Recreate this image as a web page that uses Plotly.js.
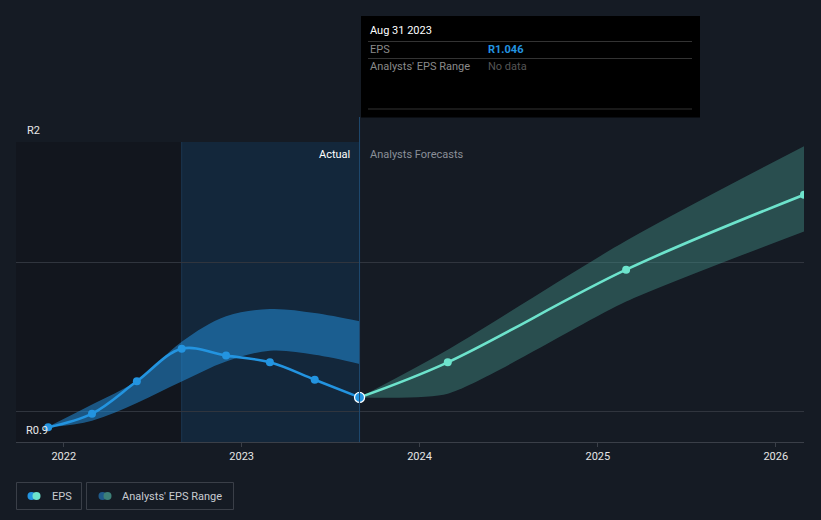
<!DOCTYPE html>
<html>
<head>
<meta charset="utf-8">
<script src="https://cdn.plot.ly/plotly-3.0.1.min.js"></script>
<style>
  html, body { margin: 0; padding: 0; background: #151b24; }
  #chart { width: 821px; height: 520px; }
</style>
</head>
<body>
<div id="chart"></div>
<script>
// ---- data ----
const actualDates = ['2021-11-30','2022-02-28','2022-05-31','2022-08-31','2022-11-30','2023-02-28','2023-05-31','2023-08-31'];
const epsActual   = [0.934, 0.985, 1.106, 1.228, 1.202, 1.177, 1.112, 1.046];
const pastRangeLow  = [0.934, 0.959, 1.025, 1.105, 1.180, 1.220, 1.205, 1.171];
const pastRangeHigh = [0.936, 1.019, 1.108, 1.254, 1.349, 1.376, 1.361, 1.330];

const forecastDates = ['2023-08-31','2024-02-28','2025-02-28','2026-02-28'];
const epsForecast   = [1.046, 1.177, 1.523, 1.803];
const fcRangeLow    = [1.046, 1.060, 1.404, 1.666];
const fcRangeHigh   = [1.046, 1.224, 1.631, 1.984];

const xTickVals = ['2022-01-01','2023-01-01','2024-01-01','2025-01-01','2026-01-01'];
const xTickText = ['2022','2023','2024','2025','2026'];
const yGridVals = [0.9914, 1.5517, 2.0];
const yLabelTop = 'R2';
const yLabelBottom = 'R0.9';
const tooltipDate = 'Aug 31 2023';
const tooltipEps = 'R1.046';
const pastStart = '2022-08-31';
const actualEnd = '2023-08-31';

// ---- layout helpers (pixel -> paper) ----
const L = 16, R = 804, T = 142, B = 442;
const px = x => (x - L) / (R - L);
const py = y => (B - y) / (B - T);

const blue = '#2394e0';
const teal = '#6de3cc';
const font = 'Roboto, "Open Sans", sans-serif';

const traces = [
  { x: actualDates, y: pastRangeLow, mode: 'lines', line: {width: 0, shape: 'spline', smoothing: 1}, hoverinfo: 'skip' },
  { x: actualDates, y: pastRangeHigh, mode: 'lines', line: {width: 0, shape: 'spline', smoothing: 1}, fill: 'tonexty', fillcolor: 'rgba(35,140,215,0.55)', hoverinfo: 'skip' },
  { x: forecastDates, y: fcRangeLow, mode: 'lines', line: {width: 0, shape: 'spline', smoothing: 0.6}, hoverinfo: 'skip' },
  { x: forecastDates, y: fcRangeHigh, mode: 'lines', line: {width: 0, shape: 'spline', smoothing: 0.8}, fill: 'tonexty', fillcolor: 'rgba(70,150,140,0.42)', hoverinfo: 'skip' },
  { x: forecastDates, y: epsForecast, mode: 'lines+markers', line: {color: teal, width: 2.6, shape: 'spline', smoothing: 1}, marker: {color: teal, size: 8} },
  { x: actualDates, y: epsActual, mode: 'lines+markers', line: {color: blue, width: 2.6, shape: 'spline', smoothing: 1}, marker: {color: blue, size: 8} },
  { x: [actualDates[actualDates.length-1]], y: [epsActual[epsActual.length-1]], mode: 'markers', marker: {color: blue, size: 10, line: {color: '#ffffff', width: 1.3}} }
];

const shapes = [
  { type: 'rect', layer: 'below', xref: 'paper', yref: 'paper', x0: 0, x1: px(182), y0: 0, y1: 1, fillcolor: '#12161e', line: {width: 0} },
  { type: 'rect', layer: 'below', xref: 'x', yref: 'paper', x0: pastStart, x1: actualEnd, y0: 0, y1: 1, fillcolor: '#13273b', line: {width: 0} },
  { type: 'line', layer: 'below', xref: 'x', yref: 'paper', x0: pastStart, x1: pastStart, y0: 0, y1: 1, line: {color: '#1b3650', width: 1} },
  { type: 'line', layer: 'above', xref: 'x', yref: 'paper', x0: actualEnd, x1: actualEnd, y0: 0, y1: py(117), line: {color: '#1f4a70', width: 1} },
  { type: 'rect', xref: 'paper', yref: 'paper', x0: px(361), x1: px(700), y0: py(117.5), y1: py(16), fillcolor: '#000000', line: {width: 0} },
  { type: 'line', xref: 'paper', yref: 'paper', x0: px(368), x1: px(692), y0: py(41.5), y1: py(41.5), line: {color: '#333333', width: 1} },
  { type: 'line', xref: 'paper', yref: 'paper', x0: px(368), x1: px(692), y0: py(58.5), y1: py(58.5), line: {color: '#333333', width: 1} },
  { type: 'line', xref: 'paper', yref: 'paper', x0: px(368), x1: px(692), y0: py(109), y1: py(109), line: {color: '#333333', width: 1} },
  { type: 'rect', xref: 'paper', yref: 'paper', x0: px(16.5), x1: px(81.5), y0: py(509.5), y1: py(482.5), line: {color: '#3a3f48', width: 1}, fillcolor: 'rgba(0,0,0,0)' },
  { type: 'rect', xref: 'paper', yref: 'paper', x0: px(86.5), x1: px(233.5), y0: py(509.5), y1: py(482.5), line: {color: '#3a3f48', width: 1}, fillcolor: 'rgba(0,0,0,0)' },
  { type: 'circle', xref: 'paper', yref: 'paper', x0: px(27.5), x1: px(35.5), y0: py(500), y1: py(492), fillcolor: blue, line: {width: 0} },
  { type: 'circle', xref: 'paper', yref: 'paper', x0: px(32.5), x1: px(40.5), y0: py(500), y1: py(492), fillcolor: teal, line: {width: 0} },
  { type: 'circle', xref: 'paper', yref: 'paper', x0: px(98.5), x1: px(106.5), y0: py(500), y1: py(492), fillcolor: '#1f5a8a', line: {width: 0} },
  { type: 'circle', xref: 'paper', yref: 'paper', x0: px(103.5), x1: px(111.5), y0: py(500), y1: py(492), fillcolor: '#3d8078', line: {width: 0} }
];

const ann = (x, y, text, color, size, anchor) => ({
  xref: 'paper', yref: 'paper', x: px(x), y: py(y), text: text, showarrow: false,
  xanchor: anchor || 'left', yanchor: 'middle', font: {family: font, size: size || 11, color: color}
});

const annotations = [
  ann(25, 130, yLabelTop, '#e8e8e8', 11),
  ann(24, 430, yLabelBottom, '#e8e8e8', 11),
  ann(352, 154, 'Actual', '#ffffff', 11, 'right'),
  ann(368, 154, 'Analysts Forecasts', '#8a8f98', 11),
  ann(368, 31, tooltipDate, '#ffffff', 11),
  ann(368, 49.5, 'EPS', '#8a8a8a', 11),
  ann(486, 49.5, '<b>' + tooltipEps + '</b>', '#2394e0', 11),
  ann(368, 66.5, "Analysts' EPS Range", '#8a8a8a', 11),
  ann(486, 66.5, 'No data', '#555555', 11),
  ann(50, 496, 'EPS', '#c8ccd2', 11),
  ann(120, 496, "Analysts' EPS Range", '#c8ccd2', 11)
];

const layout = {
  width: 821, height: 520,
  margin: {l: L, r: 821 - R, t: T, b: 520 - B, pad: 0},
  paper_bgcolor: '#151b24', plot_bgcolor: '#151b24',
  showlegend: false, hovermode: false,
  xaxis: {
    type: 'date', range: ['2021-09-25', '2026-02-28'],
    tickvals: xTickVals, ticktext: xTickText,
    showgrid: false, zeroline: false,
    showline: true, linecolor: '#3a3f48', linewidth: 1,
    ticks: 'outside', ticklen: 4, tickcolor: '#3a3f48',
    tickfont: {family: font, size: 11, color: '#e6e6e6'}
  },
  yaxis: {
    range: [0.8793, 2.0], tickvals: yGridVals, showticklabels: false,
    showgrid: true, gridcolor: '#30353e', gridwidth: 1, zeroline: false, fixedrange: true
  },
  shapes: shapes,
  annotations: annotations
};

Plotly.newPlot('chart', traces, layout, {displayModeBar: false, staticPlot: true});
</script>
</body>
</html>
